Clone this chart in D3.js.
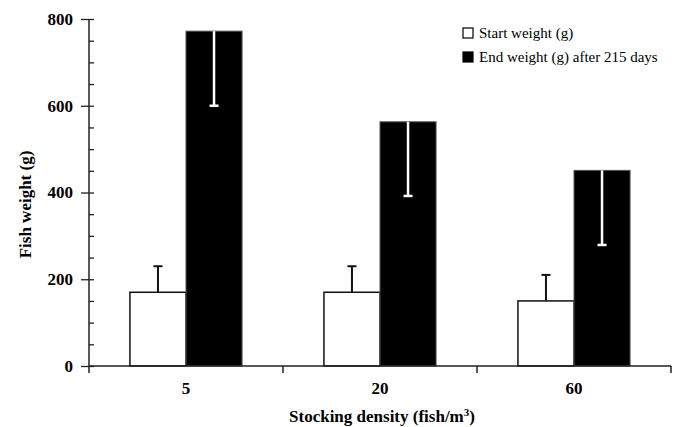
<!DOCTYPE html>
<html>
<head>
<meta charset="utf-8">
<script src="https://cdn.jsdelivr.net/npm/d3@7"></script>
<style>
  html, body { margin: 0; padding: 0; background: #fff; }
  svg { display: block; }
  text { font-family: "Liberation Serif", "DejaVu Serif", serif; fill: #000; }
</style>
</head>
<body>
<svg id="chart" width="678" height="427"></svg>
<script>
// ---- data ----
const categories = ["5", "20", "60"];
const seriesNames = ["Start weight (g)", "End weight (g) after 215 days"];
const startWeight = [170, 170, 150];
const startErr = [60, 60, 60];
const endWeight = [772, 563, 451];
const endErr = [172, 171, 172];
const yMajorTicks = [0, 200, 400, 600, 800];
const yMinorTicks = d3.range(0, 801, 50);
const xTitle = "Stocking density (fish/m";
const yTitle = "Fish weight (g)";

// ---- layout ----
const svg = d3.select("#chart");
const mLeft = 89, mRight = 671, mTop = 19, mBottom = 366;

const x = d3.scaleBand().domain(categories).range([mLeft, mRight]).paddingInner(0).paddingOuter(0);
const xs = d3.scaleBand().domain(["start", "end"]).range([0, x.bandwidth()]).paddingInner(0).paddingOuter(0.73);
const y = d3.scaleLinear().domain([0, 800]).range([mBottom, mTop]);

const rows = categories.map((c, i) => ({
  c, start: startWeight[i], sErr: startErr[i], end: endWeight[i], eErr: endErr[i]
}));

// bars
const g = svg.append("g");
const grp = g.selectAll("g.grp").data(rows).join("g")
  .attr("transform", d => `translate(${x(d.c)},0)`);

grp.append("rect")
  .attr("x", xs("start")).attr("width", xs.bandwidth())
  .attr("y", d => y(d.start)).attr("height", d => y(0) - y(d.start))
  .attr("fill", "#fff").attr("stroke", "#111").attr("stroke-width", 1.5);

grp.append("rect")
  .attr("x", xs("end")).attr("width", xs.bandwidth())
  .attr("y", d => y(d.end)).attr("height", d => y(0) - y(d.end))
  .attr("fill", "#000").attr("stroke", "#555").attr("stroke-width", 1);

// error bars: start (black, upward)
const capW = 9;
grp.append("line")
  .attr("x1", xs("start") + xs.bandwidth() / 2).attr("x2", xs("start") + xs.bandwidth() / 2)
  .attr("y1", d => y(d.start)).attr("y2", d => y(d.start + d.sErr))
  .attr("stroke", "#111").attr("stroke-width", 2);
grp.append("line")
  .attr("x1", xs("start") + xs.bandwidth() / 2 - capW / 2).attr("x2", xs("start") + xs.bandwidth() / 2 + capW / 2)
  .attr("y1", d => y(d.start + d.sErr)).attr("y2", d => y(d.start + d.sErr))
  .attr("stroke", "#111").attr("stroke-width", 2);

// error bars: end (white, downward inside bar)
grp.append("line")
  .attr("x1", xs("end") + xs.bandwidth() / 2).attr("x2", xs("end") + xs.bandwidth() / 2)
  .attr("y1", d => y(d.end)).attr("y2", d => y(d.end - d.eErr))
  .attr("stroke", "#fff").attr("stroke-width", 2.5);
grp.append("line")
  .attr("x1", xs("end") + xs.bandwidth() / 2 - capW / 2).attr("x2", xs("end") + xs.bandwidth() / 2 + capW / 2)
  .attr("y1", d => y(d.end - d.eErr)).attr("y2", d => y(d.end - d.eErr))
  .attr("stroke", "#fff").attr("stroke-width", 2.5);

// ---- y axis ----
const yAxisG = svg.append("g").attr("transform", `translate(${mLeft},0)`);
yAxisG.call(d3.axisLeft(y).tickValues(yMajorTicks).tickSizeInner(8).tickSizeOuter(0).tickPadding(8).tickFormat(d3.format("d")));
yAxisG.append("g").call(d3.axisRight(y).tickValues(yMinorTicks).tickSizeInner(5).tickSizeOuter(0).tickFormat(""));
yAxisG.selectAll(".domain").remove();
yAxisG.selectAll("text").style("font-size", "17px").style("font-weight", "bold")
  .style("font-family", '"Liberation Serif", "DejaVu Serif", serif');
yAxisG.selectAll("line").attr("stroke", "#222").attr("stroke-width", 1.3);
yAxisG.append("line").attr("x1", 0).attr("x2", 0).attr("y1", y(800)).attr("y2", y(0) + 7)
  .attr("stroke", "#222").attr("stroke-width", 1.5);

// ---- x axis ----
const xAxisG = svg.append("g").attr("transform", `translate(0,${mBottom})`);
xAxisG.call(d3.axisBottom(x).tickSize(0).tickPadding(16));
xAxisG.select(".domain").remove();
xAxisG.selectAll("text").style("font-size", "17px").style("font-weight", "bold")
  .style("font-family", '"Liberation Serif", "DejaVu Serif", serif');
xAxisG.append("line").attr("x1", mLeft).attr("x2", mRight).attr("y1", 0).attr("y2", 0)
  .attr("stroke", "#222").attr("stroke-width", 1.5);
xAxisG.selectAll("line.bound").data(categories).join("line").attr("class", "bound")
  .attr("x1", d => x(d) + x.bandwidth()).attr("x2", d => x(d) + x.bandwidth())
  .attr("y1", 0).attr("y2", 7)
  .attr("stroke", "#222").attr("stroke-width", 1.5);

// ---- titles ----
const xt = svg.append("text")
  .attr("x", (mLeft + mRight) / 2 + 2).attr("y", 422)
  .attr("text-anchor", "middle")
  .style("font-size", "17px").style("font-weight", "bold");
xt.append("tspan").text(xTitle);
xt.append("tspan").attr("dy", -6).style("font-size", "11px").text("3");
xt.append("tspan").attr("dy", 6).text(")");

svg.append("text")
  .attr("transform", `translate(31,${(mTop + mBottom) / 2 + 12}) rotate(-90)`)
  .attr("text-anchor", "middle")
  .style("font-size", "17px").style("font-weight", "bold")
  .text(yTitle);

// ---- legend ----
const legend = svg.append("g").attr("transform", "translate(463,0)");
const legRows = legend.selectAll("g").data(seriesNames).join("g")
  .attr("transform", (d, i) => `translate(0,${33 + i * 24})`);
legRows.append("rect").attr("x", 0).attr("y", -5).attr("width", 10).attr("height", 10)
  .attr("fill", (d, i) => i === 0 ? "#fff" : "#000")
  .attr("stroke", "#000").attr("stroke-width", 1.2);
legRows.append("text").attr("x", 16).attr("y", 5)
  .style("font-size", "15px")
  .text(d => d);
</script>
</body>
</html>
